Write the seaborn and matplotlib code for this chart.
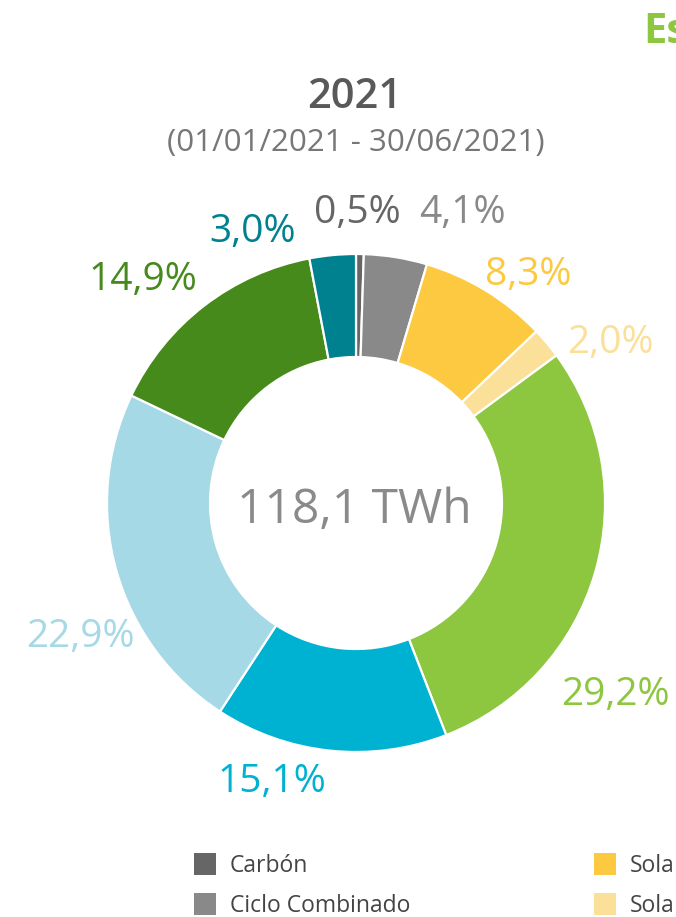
import matplotlib
matplotlib.use("Agg")
import matplotlib.pyplot as plt
import matplotlib.patches as mpatches
import seaborn as sns

# data
categories = ["Carbón", "Ciclo Combinado", "Solar fotovoltaica", "Solar térmica",
              "Eólica", "Nuclear", "Hidráulica", "Otras renovables", "Cogeneración"]
shares = [0.5, 4.1, 8.3, 2.0, 29.2, 15.1, 22.9, 14.9, 3.0]
colors = ["#666666", "#898989", "#FCC940", "#FBE09A", "#8DC63F",
          "#00B2D1", "#A6D9E6", "#468A1C", "#00818F"]
total_label = "118,1 TWh"
year_label = "2021"
period_label = "(01/01/2021 - 30/06/2021)"
legend_items = ["Carbón", "Ciclo Combinado", "Sola", "Sola"]
legend_colors = ["#666666", "#898989", "#FCC940", "#FBE09A"]

W, H = 676, 917

sns.set_theme(style="white")
plt.rcParams["font.family"] = ["Open Sans", "DejaVu Sans"]

fig = plt.figure(figsize=(W / 100, H / 100), dpi=100)
ax = fig.add_axes([0, 0, 1, 1])

def px(x, y):
    # pixel coords (top-left origin) -> data coords
    return x, H - y

cx, cy = px(356, 503)
ax.pie(shares, colors=colors, startangle=90, counterclock=False,
       radius=249, center=(cx, cy),
       wedgeprops=dict(width=103, edgecolor="white", linewidth=1.6))
ax.set_xlim(0, W)
ax.set_ylim(0, H)
ax.set_aspect("equal")
ax.axis("off")

# percentage labels (baseline anchors in pixels)
label_pos = [(357, 223), (462, 223), (528, 285), (610, 353), (615, 705),
             (272, 792), (80, 647), (143, 290), (253, 242)]
for val, col, (lx, ly) in zip(shares, colors, label_pos):
    txt = f"{val:.1f}%".replace(".", ",")
    ax.text(*px(lx, ly), txt, color=col, fontsize=28, ha="center", va="baseline")

# center total
ax.text(*px(354, 523), total_label, color="#8A8A8A", fontsize=34.5,
        ha="center", va="baseline")

# titles
ax.text(*px(355, 108), year_label, color="#595959", fontsize=30,
        fontweight="semibold", ha="center", va="baseline")
ax.text(*px(356, 151), period_label, color="#777777", fontsize=22.5,
        ha="center", va="baseline")
ax.text(*px(643, 43), "Es", color="#8DC63F", fontsize=30, fontweight="bold",
        ha="left", va="baseline")

# legend
leg_pos = [(194, 853), (194, 893), (594, 853), (594, 893)]
for name, col, (lx, ly) in zip(legend_items, legend_colors, leg_pos):
    x0, y0 = px(lx, ly + 22)
    ax.add_patch(mpatches.Rectangle((x0, y0), 22, 22, color=col, lw=0))
    ax.text(*px(lx + 36, ly + 19), name, color="#444444", fontsize=16.5,
            ha="left", va="baseline")

fig.savefig("out.png", dpi=100)
